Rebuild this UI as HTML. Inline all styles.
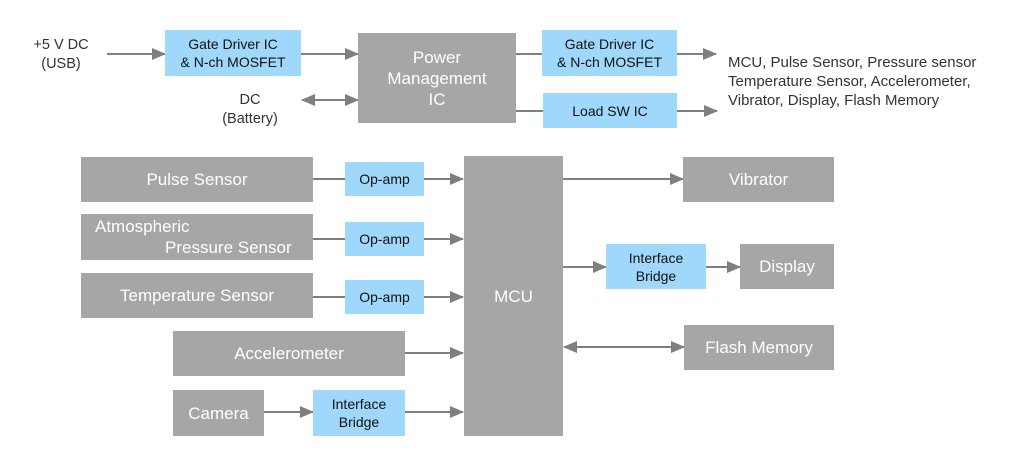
<!DOCTYPE html>
<html><head><meta charset="utf-8"><style>
body{margin:0;width:1019px;height:469px;background:#fff;position:relative;overflow:hidden;font-family:"Liberation Sans",sans-serif}
.b{position:absolute;display:flex;align-items:center;justify-content:center;text-align:center;box-sizing:border-box}
.g{background:#a6a6a6;color:#fff;font-size:17px;line-height:21px}
.u{background:#9fd8fa;color:#111;font-size:14px;line-height:18px}
.t{position:absolute;color:#333;font-size:14.5px;line-height:19px}
svg{position:absolute;left:0;top:0}
</style></head><body>
<svg width="1019" height="469">
<defs><marker id="a" markerWidth="14" markerHeight="14" refX="13" refY="7" orient="auto" markerUnits="userSpaceOnUse"><path d="M0,1L14,7L0,13z" fill="#7f7f7f"/></marker>
<marker id="s" markerWidth="14" markerHeight="14" refX="1" refY="7" orient="auto" markerUnits="userSpaceOnUse"><path d="M14,1L0,7L14,13z" fill="#7f7f7f"/></marker></defs>
<g stroke="#7f7f7f" stroke-width="2" fill="none">
<line x1="107" y1="54" x2="165" y2="54" marker-end="url(#a)"/>
<line x1="301" y1="54" x2="358" y2="54" marker-end="url(#a)"/>
<line x1="302" y1="100" x2="358" y2="100" marker-start="url(#s)" marker-end="url(#a)"/>
<line x1="516" y1="54" x2="542" y2="54"/>
<line x1="516" y1="111" x2="543" y2="111"/>
<line x1="677" y1="54" x2="716" y2="54" marker-end="url(#a)"/>
<line x1="677" y1="111" x2="717" y2="111" marker-end="url(#a)"/>
<line x1="313" y1="179" x2="345" y2="179"/>
<line x1="424" y1="179" x2="463" y2="179" marker-end="url(#a)"/>
<line x1="313" y1="239" x2="345" y2="239"/>
<line x1="424" y1="239" x2="463" y2="239" marker-end="url(#a)"/>
<line x1="313" y1="297" x2="345" y2="297"/>
<line x1="424" y1="297" x2="463" y2="297" marker-end="url(#a)"/>
<line x1="405" y1="353" x2="463" y2="353" marker-end="url(#a)"/>
<line x1="264" y1="412" x2="313" y2="412" marker-end="url(#a)"/>
<line x1="405" y1="412" x2="463" y2="412" marker-end="url(#a)"/>
<line x1="563" y1="179" x2="683" y2="179" marker-end="url(#a)"/>
<line x1="563" y1="267" x2="606" y2="267" marker-end="url(#a)"/>
<line x1="706" y1="267" x2="740" y2="267" marker-end="url(#a)"/>
<line x1="564" y1="347" x2="684" y2="347" marker-start="url(#s)" marker-end="url(#a)"/>
</g></svg>
<div class="t" style="left:24px;top:36px;width:74px;text-align:center">+5 V DC<br>(USB)</div>
<div class="t" style="left:208px;top:91px;width:84px;text-align:center">DC<br>(Battery)</div>
<div class="b u" style="left:165px;top:30px;width:136px;height:46px">Gate Driver IC<br>&amp; N-ch MOSFET</div>
<div class="b g" style="left:358px;top:33px;width:158px;height:90px">Power<br>Management<br>IC</div>
<div class="b u" style="left:542px;top:30px;width:135px;height:46px">Gate Driver IC<br>&amp; N-ch MOSFET</div>
<div class="b u" style="left:543px;top:93px;width:134px;height:35px">Load SW IC</div>
<div class="t" style="left:728px;top:53px;font-size:15px">MCU, Pulse Sensor, Pressure sensor<br>Temperature Sensor, Accelerometer,<br>Vibrator, Display, Flash Memory</div>
<div class="b g" style="left:81px;top:157px;width:232px;height:45px">Pulse Sensor</div>
<div class="b g" style="left:81px;top:214px;width:232px;height:46px;display:block;text-align:left;padding-top:2px"><div style="padding-left:14px">Atmospheric</div><div style="padding-left:84px">Pressure Sensor</div></div>
<div class="b g" style="left:81px;top:273px;width:232px;height:45px">Temperature Sensor</div>
<div class="b g" style="left:173px;top:331px;width:232px;height:45px">Accelerometer</div>
<div class="b g" style="left:173px;top:390px;width:91px;height:46px">Camera</div>
<div class="b u" style="left:345px;top:162px;width:79px;height:34px">Op-amp</div>
<div class="b u" style="left:345px;top:222px;width:79px;height:34px">Op-amp</div>
<div class="b u" style="left:345px;top:280px;width:79px;height:34px">Op-amp</div>
<div class="b u" style="left:313px;top:390px;width:92px;height:46px">Interface<br>Bridge</div>
<div class="b g" style="left:464px;top:156px;width:99px;height:280px">MCU</div>
<div class="b g" style="left:683px;top:157px;width:151px;height:45px">Vibrator</div>
<div class="b u" style="left:606px;top:244px;width:100px;height:45px">Interface<br>Bridge</div>
<div class="b g" style="left:740px;top:244px;width:94px;height:45px">Display</div>
<div class="b g" style="left:684px;top:325px;width:150px;height:45px">Flash Memory</div>
</body></html>
